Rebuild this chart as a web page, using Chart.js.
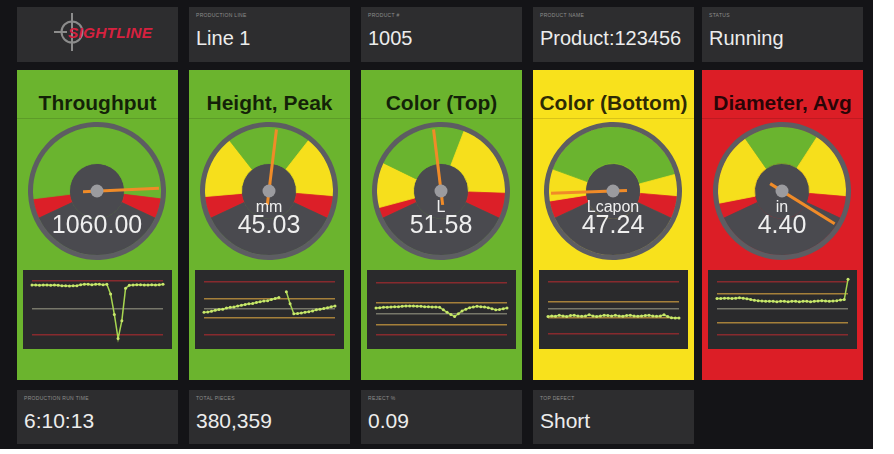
<!DOCTYPE html>
<html>
<head>
<meta charset="utf-8">
<script src="https://cdn.jsdelivr.net/npm/chart.js@4.4.1/dist/chart.umd.min.js"></script>
<style>
body{margin:0;background:#fff;font-family:"Liberation Sans",Arial,sans-serif;}
#dash{position:absolute;left:0;top:0;width:873px;height:449px;background:#141417;}
.tile{position:absolute;width:161px;background:#2d2d2f;}
.tile .lbl{position:absolute;left:7px;top:5px;font-size:5px;color:#8d8d8d;letter-spacing:.3px;text-transform:uppercase;white-space:nowrap}
.tile .val{position:absolute;left:7px;top:21px;line-height:20px;color:#ececec;font-size:20px;white-space:nowrap}
.tile.bot .val{font-size:21px}
.panel{position:absolute;top:70px;width:161px;height:310px;}
.panel .ttl{position:absolute;left:0;right:0;top:21px;text-align:center;font-weight:bold;font-size:21px;color:rgba(0,0,0,.82);white-space:nowrap}
.panel .sep{position:absolute;left:0;right:0;top:48px;height:1px;background:rgba(0,0,0,.13)}
.panel canvas.g{position:absolute;top:52px;left:11px}
.panel .box{position:absolute;left:6px;top:200px;width:149px;height:79px;background:#2a2a2c;}
.panel .box canvas{position:absolute;left:0;top:0}
</style>
</head>
<body>
<div id="dash"></div>
<script>
// ---- data ----
const columns = [17, 189, 361, 533, 702];

const topLabels = ['Production Line', 'Product #', 'Product Name', 'Status'];
const topValues = ['Line 1', '1005', 'Product:123456', 'Running'];
const bottomLabels = ['Production Run Time', 'Total Pieces', 'Reject %', 'Top Defect'];
const bottomValues = ['6:10:13', '380,359', '0.09', 'Short'];

const panelTitles = ['Throughput', 'Height, Peak', 'Color (Top)', 'Color (Bottom)', 'Diameter, Avg'];
const panelStatus = ['ok', 'ok', 'ok', 'warn', 'alarm'];
const gaugeReadings = ['1060.00', '45.03', '51.58', '47.24', '4.40'];
const gaugeUnits = ['', 'mm', 'L', 'Lcapon', 'in'];

// zone widths in degrees of the 230 deg dial: red, yellow, green, yellow, red
const zoneSpans = [
  [18, 0, 194, 0, 18],
  [20, 57, 76, 57, 20],
  [10, 41, 85, 71, 23],
  [16, 29, 145, 20, 20],
  [14, 66, 68, 62, 20]
];
// needle position as a fraction of the dial
const needlePos = [0.88, 0.53, 0.47, 0.10, 1.03];

// trend lines (last 36 samples, % of chart range)
const throughputTrend = [84.5, 84.5, 84, 84.5, 84.5, 84, 84.5, 84, 83.5, 83.5, 83, 83.5, 83.5, 85, 85.5, 85.5, 85, 85.5, 85.5, 85, 85.5,
  72, 43, 9, 34, 80, 84, 84.5, 85, 85, 84.5, 84.5, 85, 84.5, 85, 85.5];
const heightTrend = [46, 46.5, 47.5, 49, 50, 50.5, 52, 53, 53.5, 55, 56, 57, 58, 58.5, 60, 61, 62, 62.5, 64, 65.5, 67,
  null, 75, 58, 44, 44.5, 45, 46, 47, 48, 49.5, 50.5, 51.5, 52.5, 54, 55];
const colorTopTrend = [52, 52.5, 53, 53, 53.5, 54, 54, 54.5, 55, 55, 55, 54.5, 54.5, 54, 54, 53.5, 53.5, 53, 49.5, 46, 43,
  40, 44, 48, 50.5, 52.5, 53.6, 54.5, 54, 53.5, 52.5, 51, 49.5, 50, 51, 52];
const colorBottomTrend = [40, 41, 40.5, 42, 41, 40, 41.5, 42, 41, 40.5, 41, 42.5, 41, 40, 41, 42, 41.5, 41, 42, 41, 40.5,
  41.5, 42, 41, 40.5, 41, 41.5, 42, 41, 40.5, 41, 42.5, 40, 38.5, 38, 38];
const diameterTrend = [65.5, 65.5, 66, 66, 65.5, 66, 66.5, 66, 65, 64, 63, 62.5, 62, 61.5, 61.5, 61.5, 61, 61.5, 61.5, 61,
  61.5, 61.5, 61, 61.5, 61.5, 61, 61.5, 62, 62.5, 62, 61.5, 62, 62.5, 63.5, 64, 92.5];
const trends = [throughputTrend, heightTrend, colorTopTrend, colorBottomTrend, diameterTrend];

const controlLimits = [[90, 15], [89, 15], [87, 14], [89, 16], [89, 15]];
const warnLimits = [[], [65, 38], [60, 29], [61, 38], [72, 31]];
const targetLines = [50.5, 51, 44.5, 51, 51.5];

// ---- styles ----
const statusColor = { ok: '#6bb42e', warn: '#f8e11c', alarm: '#dc1e26' };
const zoneColors = ['#dc1f28', '#f6df1c', '#6ab42f', '#f6df1c', '#dc1f28', '#4a4a4f'];

const dash = document.getElementById('dash');

function tile(x, y, label, value, cls) {
  const d = document.createElement('div');
  d.className = 'tile ' + (cls || '');
  d.style.left = x + 'px';
  d.style.top = y + 'px';
  d.style.height = (cls === 'bot' ? 54 : 55) + 'px';
  if (label !== null) {
    d.innerHTML = '<div class="lbl">' + label + '</div><div class="val">' + value + '</div>';
  }
  dash.appendChild(d);
  return d;
}

// logo tile
const logo = tile(columns[0], 7, null, null);
logo.innerHTML = '<svg width="161" height="55">' +
  '<circle cx="55" cy="25" r="10.5" fill="none" stroke="#8c8c8c" stroke-width="2"/>' +
  '<line x1="55" y1="6" x2="55" y2="44" stroke="#8c8c8c" stroke-width="2"/>' +
  '<line x1="37" y1="25" x2="50" y2="25" stroke="#8c8c8c" stroke-width="2"/>' +
  '<text x="51" y="30.5" font-family="Liberation Sans, Arial" font-size="15.5" font-weight="bold" font-style="italic" fill="#d6213f" textLength="84">SIGHTLINE</text>' +
  '</svg>';

topLabels.forEach((l, i) => tile(columns[i + 1], 7, l, topValues[i]));
bottomLabels.forEach((l, i) => tile(columns[i], 390, l, bottomValues[i], 'bot'));

// needle, hub dot and readout on top of the dial
const gaugeDeco = {
  id: 'gaugeDeco',
  afterDraw(chart, args, opts) {
    const arc = chart.getDatasetMeta(0).data[0];
    const cx = arc.x, cy = arc.y;
    const ctx = chart.ctx;
    const a = (155 + opts.frac * 230) * Math.PI / 180;
    ctx.save();
    ctx.strokeStyle = '#f08b28';
    ctx.lineWidth = 3;
    ctx.beginPath();
    ctx.moveTo(cx - 14 * Math.cos(a), cy - 14 * Math.sin(a));
    ctx.lineTo(cx + 62 * Math.cos(a), cy + 62 * Math.sin(a));
    ctx.stroke();
    ctx.fillStyle = '#9b9b9f';
    ctx.beginPath();
    ctx.arc(cx, cy, 6.5, 0, Math.PI * 2);
    ctx.fill();
    ctx.fillStyle = '#efefef';
    ctx.textAlign = 'center';
    ctx.textBaseline = 'middle';
    ctx.font = '16px "Liberation Sans", Arial';
    if (opts.unit) ctx.fillText(opts.unit, cx, cy + 17);
    ctx.font = '25px "Liberation Sans", Arial';
    ctx.fillText(opts.reading, cx, cy + 35);
    ctx.restore();
  }
};

panelTitles.forEach((title, i) => {
  const p = document.createElement('div');
  p.className = 'panel';
  p.style.left = columns[i] + 'px';
  p.style.background = statusColor[panelStatus[i]];
  p.innerHTML = '<div class="ttl">' + title + '</div><div class="sep"></div>' +
    '<canvas class="g" width="138" height="138"></canvas>' +
    '<div class="box"><canvas width="149" height="79"></canvas></div>';
  dash.appendChild(p);
  const [gCanvas, tCanvas] = p.querySelectorAll('canvas');

  new Chart(gCanvas, {
    type: 'doughnut',
    data: {
      labels: ['low alarm', 'low warn', 'good', 'high warn', 'high alarm', ''],
      datasets: [
        { data: [1], backgroundColor: ['#5d5d62'], borderWidth: 0, weight: 5 },
        { data: zoneSpans[i].concat([130]), backgroundColor: zoneColors, borderColor: zoneColors, borderWidth: 0.8, weight: 36.5 },
        { data: [1], backgroundColor: ['#4a4a4f'], borderWidth: 0, weight: 27.5 }
      ]
    },
    options: {
      responsive: false,
      animation: false,
      events: [],
      rotation: -115,
      circumference: 360,
      cutout: 0,
      plugins: {
        legend: { display: false },
        tooltip: { enabled: false },
        gaugeDeco: { frac: needlePos[i], unit: gaugeUnits[i], reading: gaugeReadings[i] }
      }
    },
    plugins: [gaugeDeco]
  });

  const lims = controlLimits[i].concat(warnLimits[i], [targetLines[i]]);
  const limColor = v => controlLimits[i].includes(v) ? '#872a2e' : (warnLimits[i].includes(v) ? '#a5803a' : '#77776a');
  new Chart(tCanvas, {
    type: 'line',
    data: {
      labels: trends[i].map((_, k) => k + 1),
      datasets: [{
        data: trends[i],
        borderColor: '#a8d651',
        borderWidth: 1.5,
        pointRadius: 1.5,
        pointBorderWidth: 0,
        pointBackgroundColor: '#c9e76c',
        spanGaps: false,
        tension: 0
      }]
    },
    options: {
      responsive: false,
      animation: false,
      events: [],
      layout: { padding: { left: 9, right: 9, top: 0, bottom: 0 } },
      plugins: { legend: { display: false }, tooltip: { enabled: false } },
      scales: {
        x: { display: false },
        y: {
          min: 0, max: 100,
          ticks: { display: false },
          border: { display: false },
          grid: { drawTicks: false, lineWidth: 1.5, color: c => limColor(c.tick.value) },
          afterBuildTicks: s => { s.ticks = lims.map(v => ({ value: v })); }
        }
      }
    }
  });
});
</script>
</body>
</html>
